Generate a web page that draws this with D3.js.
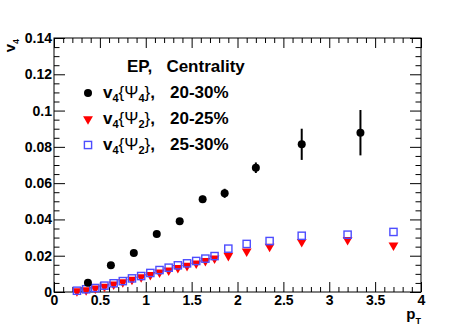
<!DOCTYPE html>
<html>
<head>
<meta charset="utf-8">
<script src="https://cdn.jsdelivr.net/npm/d3@7"></script>
<style>
  body { margin: 0; background: #fff; }
  svg text { font-family: "Liberation Sans", Arial, sans-serif; font-weight: bold; }
</style>
</head>
<body>
<svg id="chart" width="457" height="328"></svg>
<script>
// v4{Psi4}, 20-30%
const ptPsi4 = [0.37, 0.62, 0.87, 1.12, 1.37, 1.62, 1.86, 2.2, 2.7, 3.34];
const v4Psi4 = [0.0051, 0.0147, 0.0215, 0.032, 0.039, 0.0511, 0.0544, 0.0685, 0.0814, 0.0878];
const errPsi4 = [0.0008, 0.0009, 0.001, 0.0012, 0.0016, 0.002, 0.0025, 0.0029, 0.0086, 0.0125];

// v4{Psi2} shared pT bins
const ptPsi2 = [0.25, 0.35, 0.45, 0.55, 0.65, 0.75, 0.85, 0.95, 1.05, 1.15, 1.25, 1.35, 1.45, 1.55, 1.65, 1.75, 1.9, 2.1, 2.35, 2.7, 3.2, 3.7];
const v4Cent2025 = [0.0005, 0.001, 0.002, 0.003, 0.0042, 0.0055, 0.0068, 0.0082, 0.0095, 0.0108, 0.012, 0.0133, 0.0145, 0.0158, 0.0172, 0.0186, 0.02, 0.0224, 0.025, 0.0276, 0.0287, 0.0257];
const v4Cent2530 = [0.0007, 0.0015, 0.0022, 0.0035, 0.0048, 0.006, 0.0075, 0.0088, 0.0105, 0.0121, 0.0134, 0.0147, 0.0158, 0.0171, 0.0184, 0.0198, 0.0239, 0.0265, 0.0281, 0.031, 0.0316, 0.0331];

const xTicks = [0, 0.5, 1, 1.5, 2, 2.5, 3, 3.5, 4];
const yTicks = [0, 0.02, 0.04, 0.06, 0.08, 0.1, 0.12, 0.14];

const padLeft = 54, padRight = 421, padTop = 38, padBottom = 292;
const red = "#ff0000", blue = "#4d4dff";

const svg = d3.select("#chart");

const x = d3.scaleLinear().domain([0, 4]).range([padLeft, padRight]);
const y = d3.scaleLinear().domain([0, 0.14]).range([padBottom, padTop]);

const xMinor = d3.range(0, 4.0001, 0.1).filter(v => Math.abs(v * 2 - Math.round(v * 2)) > 1e-6);
const yMinor = d3.range(0, 0.14001, 0.005).filter(v => Math.abs(v * 50 - Math.round(v * 50)) > 1e-6);

const fmt = d => String(d);

// frame
svg.append("rect")
    .attr("x", padLeft)
    .attr("y", padTop)
    .attr("width", padRight - padLeft)
    .attr("height", padBottom - padTop)
    .attr("fill", "none")
    .attr("stroke", "#000")
    .attr("stroke-width", 1);

const styleAxis = g => {
  g.select(".domain").remove();
  g.selectAll("line").attr("stroke", "#000").attr("stroke-width", 1);
  g.selectAll("text").attr("fill", "#000").style("font-size", "14px");
};

// bottom axis
svg.append("g")
    .attr("transform", `translate(0,${padBottom})`)
    .call(d3.axisBottom(x).tickValues(xTicks).tickFormat(fmt).tickSize(-10).tickPadding(3))
    .call(styleAxis);
svg.append("g")
    .attr("transform", `translate(0,${padBottom})`)
    .call(d3.axisBottom(x).tickValues(xMinor).tickFormat("").tickSize(-5))
    .call(styleAxis);

// top axis
svg.append("g")
    .attr("transform", `translate(0,${padTop})`)
    .call(d3.axisTop(x).tickValues(xTicks).tickFormat("").tickSize(-10))
    .call(styleAxis);
svg.append("g")
    .attr("transform", `translate(0,${padTop})`)
    .call(d3.axisTop(x).tickValues(xMinor).tickFormat("").tickSize(-5))
    .call(styleAxis);

// left axis
svg.append("g")
    .attr("transform", `translate(${padLeft},0)`)
    .call(d3.axisLeft(y).tickValues(yTicks).tickFormat(fmt).tickSize(-11).tickPadding(2))
    .call(styleAxis);
svg.append("g")
    .attr("transform", `translate(${padLeft},0)`)
    .call(d3.axisLeft(y).tickValues(yMinor).tickFormat("").tickSize(-5.5))
    .call(styleAxis);

// right axis
svg.append("g")
    .attr("transform", `translate(${padRight},0)`)
    .call(d3.axisRight(y).tickValues(yTicks).tickFormat("").tickSize(-11))
    .call(styleAxis);
svg.append("g")
    .attr("transform", `translate(${padRight},0)`)
    .call(d3.axisRight(y).tickValues(yMinor).tickFormat("").tickSize(-5.5))
    .call(styleAxis);

// axis titles
const xTitle = svg.append("text")
    .attr("x", padRight)
    .attr("y", 319)
    .attr("text-anchor", "end")
    .style("font-size", "15px");
xTitle.append("tspan").text("p");
xTitle.append("tspan").attr("dy", 5).style("font-size", "9px").text("T");

const yTitle = svg.append("text")
    .attr("transform", `translate(15,${padTop + 1}) rotate(-90)`)
    .attr("text-anchor", "end")
    .style("font-size", "15px");
yTitle.append("tspan").text("v");
yTitle.append("tspan").attr("dy", 4).style("font-size", "9px").text("4");

// markers
const tri = d3.symbol().type(d3.symbolTriangle).size(42);

const drawSquare = (g, cx, cy) => g.append("rect")
    .attr("x", cx - 3.6)
    .attr("y", cy - 3.6)
    .attr("width", 7.2)
    .attr("height", 7.2)
    .attr("fill", "none")
    .attr("stroke", blue)
    .attr("stroke-width", 1.4);

const drawTri = (g, cx, cy) => g.append("path")
    .attr("d", tri())
    .attr("transform", `translate(${cx},${cy}) rotate(180)`)
    .attr("fill", red);

const drawDot = (g, cx, cy) => g.append("circle")
    .attr("cx", cx)
    .attr("cy", cy)
    .attr("r", 4)
    .attr("fill", "#000");

const plot = svg.append("g");

ptPsi2.forEach((pt, i) => drawTri(plot, x(pt), y(v4Cent2025[i])));
ptPsi2.forEach((pt, i) => drawSquare(plot, x(pt), y(v4Cent2530[i])));

ptPsi4.forEach((pt, i) => {
  plot.append("line")
      .attr("x1", x(pt))
      .attr("x2", x(pt))
      .attr("y1", y(v4Psi4[i] - errPsi4[i]))
      .attr("y2", y(v4Psi4[i] + errPsi4[i]))
      .attr("stroke", "#000")
      .attr("stroke-width", 2);
  drawDot(plot, x(pt), y(v4Psi4[i]));
});

// legend
svg.append("text")
    .attr("x", 127)
    .attr("y", 72)
    .style("font-size", "17px")
    .attr("xml:space", "preserve")
    .text("EP,   Centrality");

const legendRows = [
  { draw: drawDot, sub: "4", cent: "20-30%" },
  { draw: drawTri, sub: "2", cent: "20-25%" },
  { draw: drawSquare, sub: "2", cent: "25-30%" }
];

legendRows.forEach((row, i) => {
  const cy = 93 + i * 26;
  row.draw(svg, 88, cy);
  const t = svg.append("text")
      .attr("x", 103)
      .attr("y", cy + 5)
      .style("font-size", "17px");
  t.append("tspan").text("v");
  t.append("tspan").attr("dy", 4).style("font-size", "11px").text("4");
  t.append("tspan").attr("dy", -4).style("font-weight", "normal").text("{Ψ");
  t.append("tspan").attr("dy", 4).style("font-size", "11px").text(row.sub);
  t.append("tspan").attr("dy", -4).style("font-weight", "normal").text("}");
  t.append("tspan").text(",");
  svg.append("text")
      .attr("x", 170)
      .attr("y", cy + 5)
      .style("font-size", "17px")
      .text(row.cent);
});
</script>
</body>
</html>
